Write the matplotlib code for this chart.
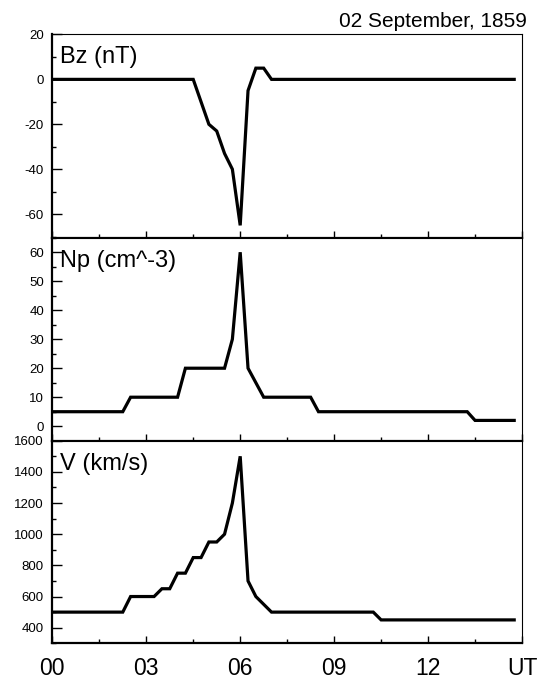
import matplotlib
matplotlib.use("Agg")
import matplotlib.pyplot as plt
from matplotlib.ticker import MultipleLocator, FixedLocator

plt.rcParams['font.family'] = ['Liberation Sans', 'DejaVu Sans']
plt.rcParams['axes.unicode_minus'] = False

# solar wind on 02 Sep 1859
hours_bz = [0, 4.5, 5.0, 5.25, 5.5, 5.75, 6.0, 6.25, 6.5, 6.75, 7.0, 14.75]
bz = [0, 0, -20, -23, -33, -40, -65, -5, 5, 5, 0, 0]

hours_np = [0, 2.25, 2.5, 4.0, 4.25, 5.5, 5.75, 6.0, 6.25, 6.75, 8.25, 8.5, 13.25, 13.5, 14.75]
np_vals = [5, 5, 10, 10, 20, 20, 30, 60, 20, 10, 10, 5, 5, 2, 2]

hours_v = [0, 2.25, 2.5, 3.25, 3.5, 3.75, 4.0, 4.25, 4.5, 4.75, 5.0, 5.25, 5.5,
           5.75, 6.0, 6.25, 6.5, 7.0, 10.25, 10.5, 14.75]
v_vals = [500, 500, 600, 600, 650, 650, 750, 750, 850, 850, 950, 950, 1000,
          1200, 1500, 700, 600, 500, 500, 450, 450]

x_ticks = [0, 3, 6, 9, 12, 15]
x_ticklabels = ["00", "03", "06", "09", "12", "UT"]

panels = [
    ("Bz (nT)", hours_bz, bz, (-70.5, 20.2), 20, 10),
    ("Np (cm^-3)", hours_np, np_vals, (-5, 65), 10, 5),
    ("V (km/s)", hours_v, v_vals, (300, 1600), 200, 100),
]

fig = plt.figure(figsize=(5.53, 6.8), dpi=100)
left, width = 0.0946, 0.8494
bottoms = [0.6504, 0.3519, 0.0540]
heights = [0.2996, 0.2985, 0.2979]

for i, (label, xs, ys, ylim, major, minor) in enumerate(panels):
    ax = fig.add_axes([left, bottoms[i], width, heights[i]])
    ax.plot(xs, ys, color='black', lw=2.3, solid_joinstyle='miter')
    ax.set_xlim(0, 15)
    ax.set_ylim(*ylim)

    ax.xaxis.set_major_locator(FixedLocator(x_ticks))
    ax.xaxis.set_minor_locator(MultipleLocator(1.5))
    ax.yaxis.set_major_locator(MultipleLocator(major))
    ax.yaxis.set_minor_locator(MultipleLocator(minor))

    ax.tick_params(axis='x', which='major', direction='in', length=5, width=1,
                   top=False, labelsize=16.5, pad=10)
    ax.tick_params(axis='x', which='minor', direction='in', length=3, width=1, top=False)
    ax.tick_params(axis='y', which='major', direction='in', length=7, width=1,
                   right=False, labelsize=9.5, pad=6)
    ax.tick_params(axis='y', which='minor', direction='in', length=3, width=1, right=False)

    if i < 2:
        ax.tick_params(axis='x', labelbottom=False)
    else:
        ax.set_xticklabels(x_ticklabels)

    ax.spines['left'].set_linewidth(1.6)
    ax.spines['bottom'].set_linewidth(1.6)
    ax.spines['top'].set_linewidth(0.8)
    ax.spines['right'].set_linewidth(0.8)

    ax.text(0.016, 1 - 29 / 203.0, label, transform=ax.transAxes,
            fontsize=17, ha='left', va='baseline')

fig.text(527 / 553, 1 - 27 / 680, "02 September, 1859", fontsize=15,
         ha='right', va='baseline')

fig.savefig("out.png", dpi=100)
